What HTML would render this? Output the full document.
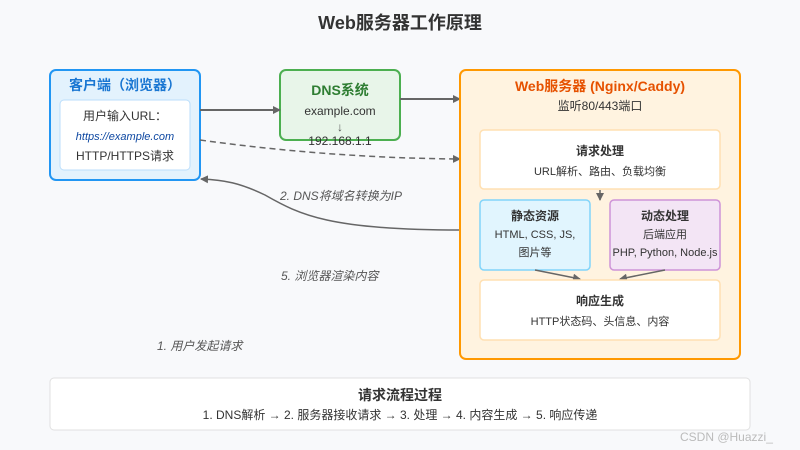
<!DOCTYPE html>
<html><head><meta charset="utf-8"><style>
html,body{margin:0;padding:0;background:#f8f9fb;}
svg{display:block;font-family:"Liberation Sans","Noto Sans CJK SC",sans-serif;}
</style></head><body>
<svg width="800" height="450" viewBox="0 0 800 450" xmlns="http://www.w3.org/2000/svg">
<defs>
<marker id="ah" markerWidth="8" markerHeight="8" refX="7" refY="4" orient="auto" markerUnits="userSpaceOnUse"><path d="M0,0 L8,4 L0,8 Z" fill="#666"/></marker>
</defs>
<rect width="800" height="450" fill="#f8f9fb"/>
<text x="400" y="29" text-anchor="middle" font-size="18" font-weight="bold" fill="#333">Web服务器工作原理</text>

<rect x="50" y="70" width="150" height="110" rx="6" fill="#e3f2fd" stroke="#2196f3" stroke-width="2"/>
<text x="125" y="90" text-anchor="middle" font-size="14" font-weight="bold" fill="#1976d2">客户端（浏览器）</text>
<rect x="60" y="100" width="130" height="70" rx="4" fill="#fff" stroke="#bbdefb" stroke-width="1"/>
<text x="125" y="120" text-anchor="middle" font-size="12" fill="#333">用户输入URL：</text>
<text x="125" y="140" text-anchor="middle" font-size="11" font-style="italic" fill="#0d47a1">https://example.com</text>
<text x="125" y="160" text-anchor="middle" font-size="12" fill="#333">HTTP/HTTPS请求</text>

<rect x="280" y="70" width="120" height="70" rx="6" fill="#e8f5e9" stroke="#4caf50" stroke-width="2"/>
<text x="340" y="95" text-anchor="middle" font-size="14" font-weight="bold" fill="#2e7d32">DNS系统</text>
<text x="340" y="115" text-anchor="middle" font-size="12" fill="#333">example.com</text>
<text x="340" y="131" text-anchor="middle" font-size="12" fill="#555">↓</text>
<text x="340" y="145" text-anchor="middle" font-size="12" fill="#333">192.168.1.1</text>

<line x1="200" y1="110" x2="280" y2="110" stroke="#666" stroke-width="2" marker-end="url(#ah)"/>
<line x1="400" y1="99" x2="460" y2="99" stroke="#666" stroke-width="2" marker-end="url(#ah)"/>
<path d="M200,140 Q330,158 460,159" fill="none" stroke="#666" stroke-width="1.5" stroke-dasharray="6,4" marker-end="url(#ah)"/>
<path d="M460,230 C330,230 300,215 265,195 C240,183 225,180 201,179" fill="none" stroke="#666" stroke-width="1.5" marker-end="url(#ah)"/>

<text x="280" y="200" font-size="12" font-style="italic" fill="#555">2. DNS将域名转换为IP</text>
<text x="281" y="280" font-size="12" font-style="italic" fill="#555">5. 浏览器渲染内容</text>
<text x="157" y="350" font-size="12" font-style="italic" fill="#555">1. 用户发起请求</text>

<rect x="460" y="70" width="280" height="289" rx="6" fill="#fff3e0" stroke="#ff9800" stroke-width="2"/>
<text x="600" y="91" text-anchor="middle" font-size="14" font-weight="bold" fill="#e65100">Web服务器 (Nginx/Caddy)</text>
<text x="600" y="110" text-anchor="middle" font-size="12" fill="#333">监听80/443端口</text>

<rect x="480" y="130" width="240" height="59" rx="4" fill="#fff" stroke="#ffe0b2" stroke-width="1.5"/>
<text x="600" y="155" text-anchor="middle" font-size="12" font-weight="bold" fill="#333">请求处理</text>
<text x="600" y="175" text-anchor="middle" font-size="11" fill="#333">URL解析、路由、负载均衡</text>
<line x1="600" y1="190" x2="600" y2="200" stroke="#666" stroke-width="1.5" marker-end="url(#ah)"/>

<rect x="480" y="200" width="110" height="70" rx="4" fill="#e1f5fe" stroke="#81d4fa" stroke-width="1.5"/>
<text x="535" y="220" text-anchor="middle" font-size="12" font-weight="bold" fill="#333">静态资源</text>
<text x="535" y="238" text-anchor="middle" font-size="11" fill="#333">HTML, CSS, JS,</text>
<text x="535" y="256" text-anchor="middle" font-size="11" fill="#333">图片等</text>

<rect x="610" y="200" width="110" height="70" rx="4" fill="#f3e5f5" stroke="#ce93d8" stroke-width="1.5"/>
<text x="665" y="220" text-anchor="middle" font-size="12" font-weight="bold" fill="#333">动态处理</text>
<text x="665" y="238" text-anchor="middle" font-size="11" fill="#333">后端应用</text>
<text x="665" y="256" text-anchor="middle" font-size="11" fill="#333">PHP, Python, Node.js</text>

<line x1="535" y1="270" x2="580" y2="279" stroke="#666" stroke-width="1.5" marker-end="url(#ah)"/>
<line x1="665" y1="270" x2="620" y2="279" stroke="#666" stroke-width="1.5" marker-end="url(#ah)"/>

<rect x="480" y="280" width="240" height="60" rx="4" fill="#fff" stroke="#ffe0b2" stroke-width="1.5"/>
<text x="600" y="305" text-anchor="middle" font-size="12" font-weight="bold" fill="#333">响应生成</text>
<text x="600" y="325" text-anchor="middle" font-size="11" fill="#333">HTTP状态码、头信息、内容</text>

<rect x="50" y="378" width="700" height="52" rx="4" fill="#fff" stroke="#e0e0e0" stroke-width="1"/>
<text x="400" y="400" text-anchor="middle" font-size="14" font-weight="bold" fill="#333">请求流程过程</text>
<text x="400" y="419" text-anchor="middle" font-size="12" fill="#333">1. DNS解析 → 2. 服务器接收请求 → 3. 处理 → 4. 内容生成 → 5. 响应传递</text>

<text x="680" y="441" font-size="12" fill="#bbb">CSDN @Huazzi_</text>
</svg>
</body></html>
